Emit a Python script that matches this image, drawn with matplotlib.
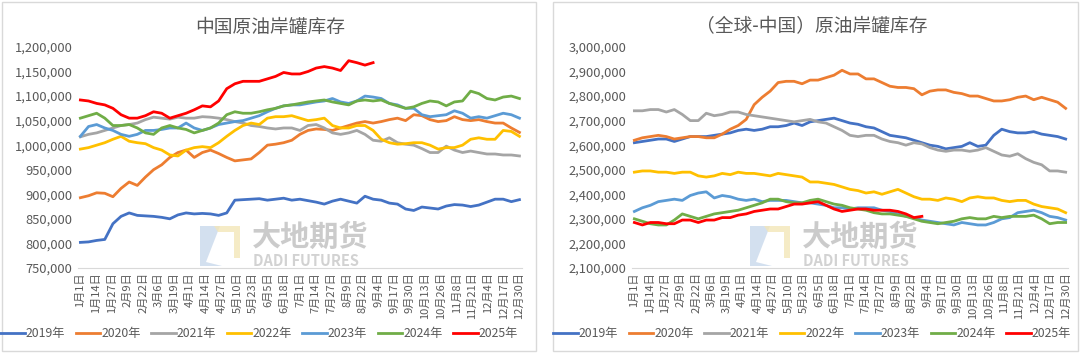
# 中国 / 全球-中国 原油岸罐库存 seasonal chart
import numpy as np
import matplotlib
matplotlib.use('Agg')
import matplotlib.pyplot as plt
from matplotlib.patches import Rectangle, Polygon
from matplotlib.ticker import FuncFormatter

plt.rcParams['font.family'] = ['Noto Sans CJK SC', 'DejaVu Sans']

years = ['2019年', '2020年', '2021年', '2022年', '2023年', '2024年', '2025年']
colors = ['#4472C4', '#ED7D31', '#A5A5A5', '#FFC000', '#5B9BD5', '#70AD47', '#FF0000']

tick_labels = ['1月1日', '1月14日', '1月27日', '2月9日', '2月22日', '3月6日', '3月19日',
               '4月1日', '4月14日', '4月27日', '5月10日', '5月23日', '6月5日', '6月18日',
               '7月1日', '7月14日', '7月27日', '8月9日', '8月22日', '9月4日', '9月17日',
               '9月30日', '10月13日', '10月26日', '11月8日', '11月21日', '12月4日',
               '12月17日', '12月30日']
tick_days = np.arange(0, 365, 13)

# sample days (every ~6.7 days)
days = np.linspace(0, 364, 55)

# ---- China onshore crude stocks (thousand) ----
cn_2019 = [802, 803, 806, 808, 840, 855, 862, 857, 856, 855, 853, 850, 858, 862, 860, 861, 860, 857,
           862, 888, 889, 890, 891, 888, 890, 892, 888, 890, 887, 884, 880, 886, 890, 886, 882, 896,
           890, 888, 882, 880, 870, 867, 874, 872, 870, 876, 879, 878, 875, 878, 884, 890, 890, 885, 889]
cn_2020 = [893, 897, 903, 902, 895, 912, 925, 918, 935, 950, 960, 975, 985, 990, 975, 985, 990, 983,
           975, 968, 970, 972, 985, 1000, 1002, 1005, 1010, 1022, 1030, 1033, 1032, 1030, 1035, 1040,
           1045, 1048, 1045, 1048, 1052, 1055, 1050, 1062, 1060, 1052, 1048, 1050, 1058, 1052, 1050,
           1052, 1048, 1045, 1045, 1035, 1026]
cn_2021 = [1017, 1022, 1025, 1030, 1035, 1040, 1042, 1045, 1052, 1057, 1055, 1053, 1057, 1055, 1055,
           1058, 1057, 1055, 1052, 1048, 1045, 1040, 1038, 1035, 1033, 1035, 1035, 1030, 1040, 1042,
           1035, 1025, 1022, 1025, 1030, 1022, 1010, 1008, 1015, 1005, 1002, 1000, 993, 985, 985, 998,
           990, 985, 988, 985, 982, 982, 980, 980, 978]
cn_2022 = [992, 995, 1000, 1005, 1012, 1018, 1008, 1005, 1003, 995, 990, 980, 978, 990, 995, 997, 995,
           1005, 1018, 1030, 1040, 1045, 1042, 1055, 1058, 1058, 1060, 1055, 1050, 1052, 1055, 1040,
           1035, 1035, 1040, 1040, 1030, 1012, 1005, 1002, 1003, 1005, 1005, 1000, 992, 995, 995, 1000,
           1012, 1015, 1012, 1012, 1030, 1028, 1018]
cn_2023 = [1018, 1038, 1042, 1035, 1030, 1022, 1018, 1022, 1030, 1030, 1032, 1035, 1035, 1045, 1035,
           1030, 1035, 1042, 1045, 1048, 1050, 1055, 1060, 1068, 1075, 1080, 1082, 1082, 1085, 1088,
           1090, 1095, 1088, 1085, 1090, 1100, 1098, 1095, 1085, 1082, 1075, 1075, 1062, 1058, 1060,
           1062, 1070, 1065, 1055, 1058, 1055, 1060, 1065, 1062, 1055]
cn_2024 = [1055, 1060, 1065, 1055, 1040, 1040, 1042, 1035, 1025, 1022, 1035, 1040, 1035, 1032, 1025,
           1030, 1035, 1045, 1062, 1068, 1065, 1065, 1068, 1072, 1075, 1080, 1082, 1085, 1088, 1090,
           1092, 1088, 1085, 1082, 1090, 1092, 1090, 1092, 1085, 1080, 1075, 1078, 1085, 1090, 1088,
           1080, 1088, 1090, 1110, 1105, 1095, 1092, 1098, 1100, 1095]
cn_2025 = [1092, 1090, 1085, 1082, 1075, 1062, 1055, 1055, 1060, 1068, 1065, 1055, 1060, 1065, 1072,
           1080, 1078, 1090, 1115, 1125, 1130, 1130, 1130, 1135, 1140, 1148, 1145, 1145, 1150, 1157,
           1160, 1157, 1152, 1172, 1168, 1163, 1168]

# ---- Global ex-China onshore crude stocks (thousand) ----
gl_2019 = [2610, 2615, 2620, 2625, 2625, 2615, 2625, 2635, 2635, 2635, 2640, 2645, 2650, 2660, 2665,
           2660, 2665, 2675, 2675, 2680, 2690, 2680, 2695, 2700, 2705, 2710, 2700, 2690, 2685, 2675,
           2670, 2655, 2640, 2635, 2630, 2620, 2610, 2600, 2595, 2585, 2590, 2595, 2610, 2595, 2600,
           2640, 2665, 2655, 2650, 2650, 2655, 2645, 2640, 2635, 2625]
gl_2020 = [2620, 2630, 2635, 2640, 2635, 2625, 2630, 2635, 2635, 2630, 2630, 2645, 2665, 2680, 2705,
           2765, 2795, 2820, 2855, 2860, 2860, 2850, 2865, 2865, 2875, 2885, 2905, 2890, 2890, 2870,
           2870, 2855, 2840, 2835, 2835, 2830, 2805, 2820, 2825, 2825, 2815, 2810, 2800, 2800, 2790,
           2780, 2780, 2785, 2795, 2800, 2785, 2795, 2785, 2775, 2750]
gl_2021 = [2740, 2740, 2745, 2745, 2735, 2745, 2725, 2700, 2700, 2730, 2720, 2725, 2735, 2735, 2725,
           2720, 2715, 2710, 2705, 2700, 2695, 2700, 2705, 2695, 2690, 2675, 2660, 2640, 2635, 2640,
           2640, 2625, 2615, 2610, 2600, 2610, 2605, 2590, 2580, 2575, 2580, 2580, 2575, 2580, 2590,
           2575, 2560, 2555, 2565, 2545, 2530, 2520, 2495, 2495, 2490]
gl_2022 = [2490, 2495, 2495, 2490, 2490, 2485, 2490, 2490, 2475, 2470, 2475, 2485, 2480, 2490, 2485,
           2485, 2480, 2475, 2485, 2480, 2475, 2470, 2450, 2450, 2445, 2440, 2430, 2420, 2415, 2405,
           2410, 2400, 2410, 2420, 2405, 2390, 2380, 2380, 2375, 2385, 2380, 2370, 2385, 2390, 2385,
           2385, 2375, 2370, 2375, 2375, 2360, 2350, 2345, 2340, 2325]
gl_2023 = [2330, 2345, 2355, 2370, 2375, 2380, 2375, 2395, 2405, 2410, 2385, 2395, 2390, 2380, 2375,
           2380, 2370, 2375, 2375, 2375, 2370, 2365, 2365, 2360, 2355, 2345, 2345, 2340, 2345, 2345,
           2345, 2335, 2330, 2320, 2310, 2305, 2295, 2290, 2285, 2280, 2275, 2285, 2280, 2275, 2275,
           2285, 2300, 2305, 2325, 2330, 2335, 2325, 2310, 2305, 2295]
gl_2024 = [2300, 2290, 2280, 2275, 2275, 2295, 2320, 2310, 2300, 2310, 2320, 2325, 2330, 2335, 2345,
           2355, 2365, 2380, 2380, 2370, 2365, 2365, 2375, 2380, 2370, 2360, 2355, 2345, 2340, 2335,
           2325, 2320, 2320, 2315, 2310, 2300, 2290, 2285, 2280, 2285, 2290, 2300, 2305, 2300, 2300,
           2310, 2305, 2310, 2310, 2310, 2315, 2300, 2280, 2285, 2285]
gl_2025 = [2285, 2275, 2285, 2285, 2280, 2280, 2295, 2295, 2285, 2295, 2295, 2305, 2305, 2315, 2320,
           2330, 2335, 2340, 2340, 2350, 2360, 2360, 2365, 2370, 2355, 2340, 2330, 2335, 2340, 2340,
           2335, 2335, 2335, 2330, 2320, 2305, 2310]

cn_series = [cn_2019, cn_2020, cn_2021, cn_2022, cn_2023, cn_2024, cn_2025]
gl_series = [gl_2019, gl_2020, gl_2021, gl_2022, gl_2023, gl_2024, gl_2025]

txt = '#595959'

fig = plt.figure(figsize=(10.8, 3.53), dpi=100)
fig.patch.set_facecolor('white')

# panel borders
for x0, w in [(0.002, 0.494), (0.512, 0.486)]:
    fig.add_artist(Rectangle((x0, 0.006), w, 0.988, transform=fig.transFigure,
                             fill=False, edgecolor='#d9d9d9', lw=1.0))


def watermark(px):
    # px: left edge of the logo in figure pixels
    W, H = 1080.0, 353.0
    tr = fig.transFigure
    x0, y0 = px / W, (353 - 266) / H
    w, h = 40 / W, 40 / H
    fig.add_artist(Polygon([(x0, y0 + h), (x0 + 0.5 * w, y0 + h), (x0 + 0.15 * w, y0 + 0.1 * h),
                            (x0 + 0.55 * w, y0), (x0, y0)], closed=True, transform=tr,
                           facecolor='#c9d9ec', edgecolor='none', alpha=0.8, zorder=-1))
    fig.add_artist(Polygon([(x0 + 0.35 * w, y0 + h), (x0 + w, y0 + h), (x0 + w, y0 + 0.2 * h),
                            (x0 + 0.85 * w, y0 + 0.2 * h), (x0 + 0.85 * w, y0 + 0.85 * h),
                            (x0 + 0.45 * w, y0 + 0.85 * h)], closed=True, transform=tr,
                           facecolor='#f3e6b8', edgecolor='none', alpha=0.8, zorder=-1))
    fig.text((px + 52) / W, (353 - 237) / H, '大地期货', fontsize=21, fontweight='bold',
             color='#cbcbcb', ha='left', va='center', zorder=-1)
    fig.text((px + 53) / W, (353 - 261) / H, 'DADI FUTURES', fontsize=10.5, fontweight='bold',
             color='#d2d2d2', ha='left', va='center', zorder=-1)


def draw_panel(rect, series, ylim, step, title, title_x, legend_x, wm_px):
    ax = fig.add_axes(rect)
    watermark(wm_px)
    for vals, c, lab in zip(series, colors, years):
        ax.plot(days[:len(vals)], np.array(vals) * 1000, color=c, lw=2.0, label=lab)
    ax.set_xlim(-2, 366)
    ax.set_ylim(*ylim)
    ax.set_yticks(np.arange(ylim[0], ylim[1] + 1, step))
    ax.yaxis.set_major_formatter(FuncFormatter(lambda v, p: f'{int(v):,}'))
    ax.set_xticks(tick_days)
    ax.set_xticklabels(tick_labels, rotation=90, fontsize=8, color=txt)
    ax.tick_params(axis='y', labelsize=9.3, colors=txt, length=0, pad=4)
    ax.tick_params(axis='x', length=0, pad=3)
    for s in ['top', 'right', 'left']:
        ax.spines[s].set_visible(False)
    ax.spines['bottom'].set_color('#d9d9d9')
    ax.patch.set_alpha(0)
    fig.text(title_x, 0.923, title, ha='center', va='center', fontsize=13.5, color=txt)
    fig.legend(*ax.get_legend_handles_labels(), loc='center', ncol=7, frameon=False,
               bbox_to_anchor=(legend_x, 0.054), fontsize=8.8, handlelength=2.0,
               handletextpad=0.1, columnspacing=0.85, labelcolor=txt)
    return ax


draw_panel([0.0722, 0.241, 0.411, 0.626], cn_series, (750000, 1200000), 50000,
           '中国原油岸罐库存', 0.25, 0.24, 200)
draw_panel([0.5852, 0.241, 0.4037, 0.626], gl_series, (2100000, 3000000), 100000,
           '（全球-中国）原油岸罐库存', 0.752, 0.752, 750)

fig.savefig('out.png', dpi=100, facecolor='white')
